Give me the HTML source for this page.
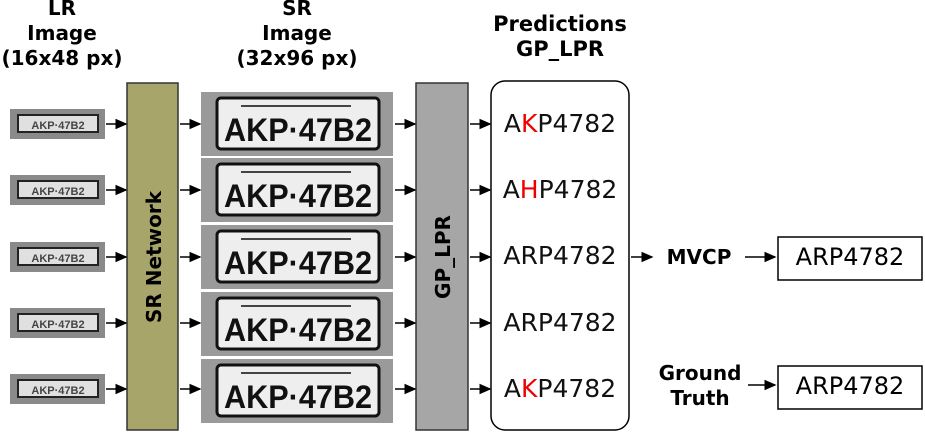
<!DOCTYPE html>
<html><head><meta charset="utf-8"><style>
body{margin:0;background:#fff;width:925px;height:433px;position:relative;overflow:hidden;font-family:"DejaVu Sans","Liberation Sans",sans-serif}
.a{position:absolute}
.h{font-weight:bold;font-size:20px;text-align:center;line-height:25px;color:#000}
.pred{position:absolute;left:491px;width:138px;text-align:center;font-size:25px;color:#111}
.r{color:#e00}
</style></head><body>
<div class="a h" style="left:-3px;top:-4px;width:130px">LR<br>Image<br>(16x48 px)</div>
<div class="a h" style="left:232px;top:-4px;width:130px">SR<br>Image<br>(32x96 px)</div>
<div class="a h" style="left:475px;top:12px;width:170px;font-size:21px">Predictions<br>GP_LPR</div>
<svg class="a" style="left:0;top:0" width="925" height="433">
<defs>
<marker id="ar" markerWidth="8" markerHeight="8" refX="7" refY="4" orient="auto"><path d="M0,0.5 L8,4 L0,7.5z" fill="#000"/></marker>
<g id="lr"><rect width="95" height="30" fill="#8a8a8a"/><rect x="8" y="6" width="80" height="17" fill="#e0e0e0" stroke="#222" stroke-width="2"/><text x="48" y="20" font-size="11" font-weight="bold" text-anchor="middle" fill="#444" font-family="Liberation Sans,sans-serif">AKP·47B2</text></g>
<g id="sr"><rect width="192" height="64" fill="#9a9a9a"/><rect x="16" y="6" width="162" height="51" rx="4" fill="#eeeeee" stroke="#111" stroke-width="3"/><line x1="40" y1="14" x2="150" y2="14" stroke="#444" stroke-width="2"/><text x="97" y="49" font-size="32" font-weight="bold" text-anchor="middle" fill="#111" font-family="Liberation Sans,sans-serif" textLength="148" lengthAdjust="spacingAndGlyphs">AKP·47B2</text></g>
</defs>
<g>
<use href="#lr" x="10" y="109"/><use href="#lr" x="10" y="175"/><use href="#lr" x="10" y="242"/><use href="#lr" x="10" y="308"/><use href="#lr" x="10" y="374"/>
</g>
<rect x="127" y="83" width="51" height="347" fill="#a8a56a" stroke="#333" stroke-width="1.5"/>
<text transform="translate(161,257) rotate(-90)" text-anchor="middle" font-size="20" font-weight="bold">SR Network</text>
<g>
<use href="#sr" x="201" y="92"/><use href="#sr" x="201" y="158"/><use href="#sr" x="201" y="225"/><use href="#sr" x="201" y="292"/><use href="#sr" x="201" y="359"/>
</g>
<rect x="416" y="83" width="52" height="347" fill="#a6a6a6" stroke="#333" stroke-width="1.5"/>
<text transform="translate(450,257) rotate(-90)" text-anchor="middle" font-size="20" font-weight="bold">GP_LPR</text>
<rect x="491" y="81" width="138" height="349" rx="14" fill="#fff" stroke="#000" stroke-width="1.5"/>
<g stroke="#000" stroke-width="1.5" marker-end="url(#ar)">
<line x1="106" y1="124" x2="126" y2="124"/><line x1="106" y1="190" x2="126" y2="190"/><line x1="106" y1="257" x2="126" y2="257"/><line x1="106" y1="323" x2="126" y2="323"/><line x1="106" y1="389" x2="126" y2="389"/>
<line x1="180" y1="124" x2="200" y2="124"/><line x1="180" y1="190" x2="200" y2="190"/><line x1="180" y1="257" x2="200" y2="257"/><line x1="180" y1="323" x2="200" y2="323"/><line x1="180" y1="389" x2="200" y2="389"/>
<line x1="395" y1="124" x2="415" y2="124"/><line x1="395" y1="190" x2="415" y2="190"/><line x1="395" y1="257" x2="415" y2="257"/><line x1="395" y1="323" x2="415" y2="323"/><line x1="395" y1="389" x2="415" y2="389"/>
<line x1="470" y1="124" x2="490" y2="124"/><line x1="470" y1="190" x2="490" y2="190"/><line x1="470" y1="257" x2="490" y2="257"/><line x1="470" y1="323" x2="490" y2="323"/><line x1="470" y1="389" x2="490" y2="389"/>
<line x1="631" y1="257" x2="652" y2="257"/><line x1="745" y1="257" x2="775" y2="257"/><line x1="748" y1="385" x2="775" y2="385"/>
</g>
<rect x="778" y="237" width="144" height="43" fill="#fff" stroke="#000" stroke-width="1.5"/>
<rect x="778" y="366" width="144" height="43" fill="#fff" stroke="#000" stroke-width="1.5"/>
</svg>
<div class="pred" style="top:109px">A<span class="r">K</span>P4782</div>
<div class="pred" style="top:175px">A<span class="r">H</span>P4782</div>
<div class="pred" style="top:241px">ARP4782</div>
<div class="pred" style="top:308px">ARP4782</div>
<div class="pred" style="top:374px">A<span class="r">K</span>P4782</div>
<div class="a h" style="left:655px;top:245px;width:88px">MVCP</div>
<div class="a h" style="left:645px;top:361px;width:110px">Ground<br>Truth</div>
<div class="a" style="left:778px;top:243px;width:144px;text-align:center;font-size:24px">ARP4782</div>
<div class="a" style="left:778px;top:372px;width:144px;text-align:center;font-size:24px">ARP4782</div>
</body></html>
